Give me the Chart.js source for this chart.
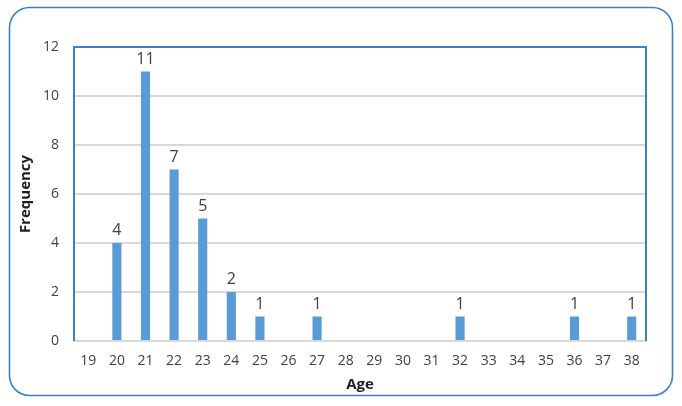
<!DOCTYPE html>
<html>
<head>
<meta charset="utf-8">
<script src="https://cdn.jsdelivr.net/npm/chart.js@4/dist/chart.umd.min.js"></script>
<style>
  html, body { margin: 0; padding: 0; background: #fff; }
  #wrap { width: 682px; height: 406px; position: relative; }
</style>
</head>
<body>
<div id="wrap"><canvas id="ageChart"></canvas></div>
<script>
// edades y frecuencias
const edades = ["19", "20", "21", "22", "23", "24", "25", "26", "27", "28",
                "29", "30", "31", "32", "33", "34", "35", "36", "37", "38"];
const frecuencias = [0, 4, 11, 7, 5, 2, 1, 0, 1, 0,
                     0, 0, 0, 1, 0, 0, 0, 1, 0, 1];
const ticksY = [0, 2, 4, 6, 8, 10, 12];

const AZUL = '#5B9BD5';
const BORDE = '#3E80C4';
const TEXTO = '#404040';
const TITULO = '#1f1f1f';
const FUENTE = "'Open Sans', sans-serif";

// marco redondeado exterior + borde del area de trazado
const marcoPlugin = {
    id: 'marco',
    beforeDraw(chart) {
        const c = chart.ctx;
        c.save();
        c.fillStyle = '#fff';
        c.fillRect(0, 0, chart.width, chart.height);
        const x = 9.5, y = 7.5, w = 663, h = 388, r = 20;
        c.beginPath();
        c.moveTo(x + r, y);
        c.lineTo(x + w - r, y);
        c.arcTo(x + w, y, x + w, y + r, r);
        c.lineTo(x + w, y + h - r);
        c.arcTo(x + w, y + h, x + w - r, y + h, r);
        c.lineTo(x + r, y + h);
        c.arcTo(x, y + h, x, y + h - r, r);
        c.lineTo(x, y + r);
        c.arcTo(x, y, x + r, y, r);
        c.closePath();
        c.strokeStyle = BORDE;
        c.lineWidth = 1.6;
        c.stroke();
        c.restore();
    },
    afterDraw(chart) {
        const a = chart.chartArea;
        const c = chart.ctx;
        c.save();
        c.strokeStyle = BORDE;
        c.lineWidth = 2;
        c.beginPath();
        c.moveTo(a.left, a.bottom);
        c.lineTo(a.left, a.top);
        c.lineTo(a.right, a.top);
        c.lineTo(a.right, a.bottom);
        c.stroke();
        c.restore();
    }
};

// etiquetas de valor encima de cada barra (sin ceros)
const etiquetasPlugin = {
    id: 'etiquetas',
    afterDatasetsDraw(chart) {
        const c = chart.ctx;
        const meta = chart.getDatasetMeta(0);
        c.save();
        c.font = "16px " + FUENTE;
        c.fillStyle = TEXTO;
        c.textAlign = 'center';
        c.textBaseline = 'alphabetic';
        meta.data.forEach((bar, i) => {
            const v = frecuencias[i];
            if (!v) return;
            c.fillText(String(v), bar.x, bar.y - 8);
        });
        c.restore();
    }
};

new Chart(document.getElementById('ageChart'), {
    type: 'bar',
    data: {
        labels: edades,
        datasets: [{
            label: 'Frequency',
            data: frecuencias,
            backgroundColor: AZUL,
            barPercentage: 0.32,
            categoryPercentage: 1
        }]
    },
    options: {
        responsive: true,
        maintainAspectRatio: false,
        animation: false,
        devicePixelRatio: 1,
        layout: { padding: { left: 17, top: 47, right: 36, bottom: 12 } },
        plugins: {
            legend: { display: false },
            tooltip: { enabled: false }
        },
        scales: {
            x: {
                grid: { display: false, drawTicks: false },
                border: { color: '#d9d9d9', width: 2 },
                ticks: { color: TEXTO, font: { size: 14, family: FUENTE }, padding: 12, maxRotation: 0, autoSkip: false },
                title: { display: true, text: 'Age', color: TITULO, font: { size: 15, weight: 'bold', family: FUENTE }, padding: 0 },
                afterFit(s) { s.height = 53; }
            },
            y: {
                min: 0,
                max: 12,
                afterBuildTicks(s) { s.ticks = ticksY.map(v => ({ value: v })); },
                grid: { color: '#d9d9d9', lineWidth: 2, drawTicks: false },
                border: { display: false },
                ticks: { color: TEXTO, font: { size: 14, family: FUENTE }, padding: 15 },
                title: { display: true, text: 'Frequency', color: TITULO, font: { size: 15, weight: 'bold', family: FUENTE }, padding: 0 },
                afterFit(s) { s.width = 57; }
            }
        }
    },
    plugins: [marcoPlugin, etiquetasPlugin]
});
</script>
</body>
</html>
